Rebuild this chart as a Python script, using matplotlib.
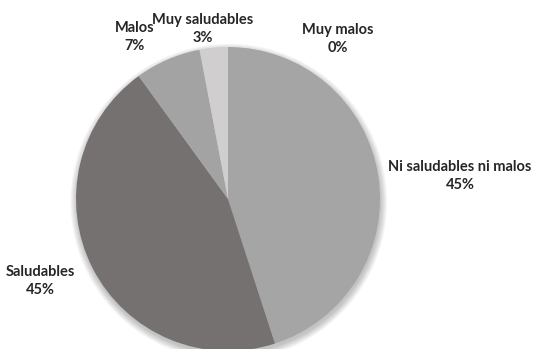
import matplotlib
matplotlib.use("Agg")
import matplotlib.pyplot as plt
from matplotlib.patches import Circle

# Categories in clockwise order starting at 12 o'clock
categorias = ["Muy malos", "Ni saludables ni malos", "Saludables", "Malos", "Muy saludables"]
porcentajes = [0, 45, 45, 7, 3]
colores = ["#8c8c8c", "#a5a5a5", "#767171", "#a3a3a3", "#d0cece"]

# Label anchor points (pixel positions of the text block centres)
etiquetas_px = [(338, 39), (460, 176), (40, 281), (135, 37), (203, 29)]

W, H = 534, 349
cx, cy, r = 228, 199, 152

fig = plt.figure(figsize=(W / 100, H / 100), dpi=100)
ax = fig.add_axes([0, 0, 1, 1])
ax.set_xlim(-cx / r, (W - cx) / r)
ax.set_ylim(-(H - cy) / r, cy / r)
ax.set_aspect("equal")
ax.axis("off")

# soft drop shadow under the pie
for i in range(8):
    ax.add_patch(Circle((0.005, -0.02), 1 + 0.006 * i, color="black",
                        alpha=0.03, lw=0, zorder=0))

ax.pie(porcentajes, colors=colores, startangle=90, counterclock=False,
       radius=1, center=(0, 0), wedgeprops=dict(linewidth=0))

for nombre, valor, (px, py) in zip(categorias, porcentajes, etiquetas_px):
    ax.text((px - cx) / r, (cy - py) / r, f"{nombre}\n{valor}%",
            ha="center", va="center", fontsize=10.5, fontweight="bold",
            family="Lato", color="#262626", linespacing=1.45)

ax.set_xlim(-cx / r, (W - cx) / r)
ax.set_ylim(-(H - cy) / r, cy / r)
fig.savefig("out.png", dpi=100, facecolor="white")
